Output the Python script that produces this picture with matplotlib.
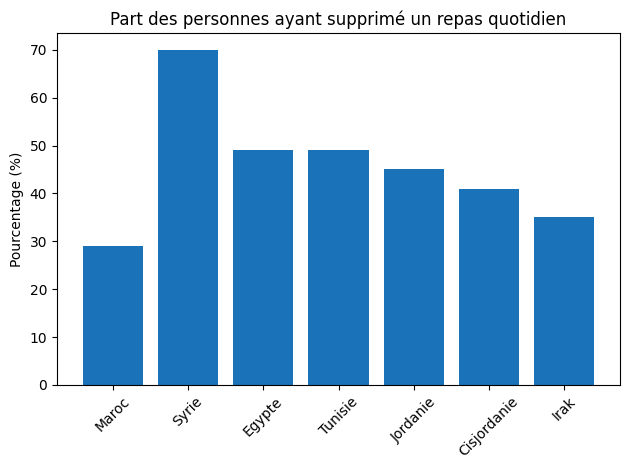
import matplotlib
matplotlib.use("Agg")
import matplotlib.pyplot as plt

categories = ["Maroc", "Syrie", "Egypte", "Tunisie", "Jordanie", "Cisjordanie", "Irak"]
values = [29, 70, 49, 49, 45, 41, 35]

fig, ax = plt.subplots(figsize=(6.3, 4.7), dpi=100)
ax.bar(categories, values, color="#1a73b9")
ax.set_title("Part des personnes ayant supprimé un repas quotidien")
ax.set_ylabel("Pourcentage (%)")
plt.xticks(rotation=45)
fig.subplots_adjust(left=57/630, right=620/630, top=1-33/470, bottom=1-385/470)
fig.savefig("out.png", dpi=100)
